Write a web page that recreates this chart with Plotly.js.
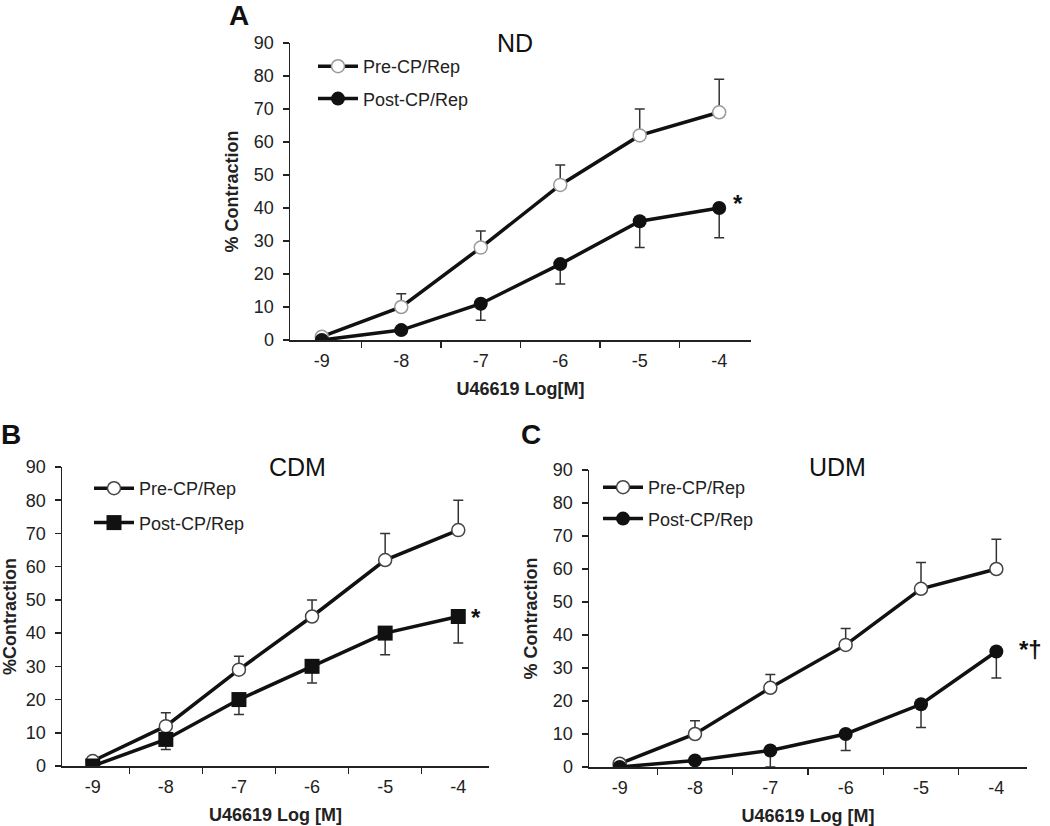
<!DOCTYPE html>
<html>
<head>
<meta charset="utf-8">
<script src="https://cdn.plot.ly/plotly-3.0.1.min.js"></script>
<style>
  html, body { margin: 0; padding: 0; background: #fff; }
  #chart { width: 1050px; height: 826px; }
</style>
</head>
<body>
<div id="chart"></div>
<script>
// U46619 concentration (log M) — category axis
const doses = ["-9", "-8", "-7", "-6", "-5", "-4"];

// Panel A: ND
const ndPre = [1, 10, 28, 47, 62, 69];
const ndPreErr = [0.5, 4, 5, 6, 8, 10];
const ndPost = [0, 3, 11, 23, 36, 40];
const ndPostErr = [0, 1, 5, 6, 8, 9];

// Panel B: CDM
const cdmPre = [1.5, 12, 29, 45, 62, 71];
const cdmPreErr = [0.5, 4, 4, 5, 8, 9];
const cdmPost = [0, 8, 20, 30, 40, 45];
const cdmPostErr = [0, 3, 4.5, 5, 6.5, 8];

// Panel C: UDM
const udmPre = [1, 10, 24, 37, 54, 60];
const udmPreErr = [0.5, 4, 4, 5, 8, 9];
const udmPost = [0, 2, 5, 10, 19, 35];
const udmPostErr = [0, 3, 5, 5, 7, 8];

const zeros = [0, 0, 0, 0, 0, 0];
const FONT = "Liberation Sans, Arial, sans-serif";
const LINE = { color: "#111", width: 3.5 };

function errUp(arr) {
  return { type: "data", symmetric: false, array: arr, arrayminus: zeros,
           color: "#333", thickness: 1.5, width: 5 };
}
function errDown(arr) {
  return { type: "data", symmetric: false, array: zeros, arrayminus: arr,
           color: "#333", thickness: 1.5, width: 5 };
}

function preTrace(y, err, xa, ya, leg, outline) {
  return {
    x: doses, y: y, xaxis: xa, yaxis: ya, legend: leg,
    name: "Pre-CP/Rep", legendgroup: leg + "pre",
    mode: "lines+markers", line: LINE,
    marker: { symbol: "circle", size: 13, color: "#fff", line: { color: outline, width: 1.5 } },
    error_y: errUp(err)
  };
}
function postTrace(y, err, xa, ya, leg, symbol) {
  return {
    x: doses, y: y, xaxis: xa, yaxis: ya, legend: leg,
    name: "Post-CP/Rep", legendgroup: leg + "post",
    mode: "lines+markers", line: LINE,
    marker: { symbol: symbol, size: symbol === "square" ? 15 : 14, color: "#111", line: { width: 0 } },
    error_y: errDown(err)
  };
}

const traces = [
  preTrace(ndPre, ndPreErr, "x", "y", "legend", "#999"),
  postTrace(ndPost, ndPostErr, "x", "y", "legend", "circle"),
  preTrace(cdmPre, cdmPreErr, "x2", "y2", "legend2", "#444"),
  postTrace(cdmPost, cdmPostErr, "x2", "y2", "legend2", "square"),
  preTrace(udmPre, udmPreErr, "x3", "y3", "legend3", "#444"),
  postTrace(udmPost, udmPostErr, "x3", "y3", "legend3", "circle")
];

const W = 1050, H = 826;
const px = v => v / W;
const py = v => 1 - v / H;

function xAxis(domain, anchor, title) {
  return {
    domain: domain, anchor: anchor, type: "category",
    tickson: "boundaries", ticks: "outside", ticklen: 6, tickwidth: 1.5, tickcolor: "#222",
    showline: true, linecolor: "#222", linewidth: 1.5, showgrid: false, zeroline: false,
    tickfont: { family: FONT, size: 18, color: "#222" },
    ticklabelstandoff: 4,
    title: { text: title, font: { family: FONT, size: 18, color: "#222", weight: "bold" }, standoff: 12 },
    fixedrange: true
  };
}
function yAxis(domain, anchor, title) {
  return {
    domain: domain, anchor: anchor, range: [0, 90], dtick: 10,
    ticks: "outside", ticklen: 6, tickwidth: 1.5, tickcolor: "#222",
    showline: true, linecolor: "#222", linewidth: 1.5, showgrid: false, zeroline: false,
    tickfont: { family: FONT, size: 18, color: "#222" },
    ticklabelstandoff: 5,
    title: { text: title, font: { family: FONT, size: 18, color: "#222", weight: "bold" }, standoff: 10 },
    fixedrange: true
  };
}
function legendAt(x, y, gap) {
  return {
    x: px(x), y: py(y), xanchor: "left", yanchor: "top",
    xref: "paper", yref: "paper",
    bgcolor: "rgba(0,0,0,0)", borderwidth: 0,
    traceorder: "grouped", tracegroupgap: gap, itemwidth: 40,
    font: { family: FONT, size: 18, color: "#222" }
  };
}
function label(text, x, y, size, bold) {
  return {
    text: text, xref: "paper", yref: "paper", x: px(x), y: py(y),
    xanchor: "center", yanchor: "middle", showarrow: false,
    font: { family: FONT, size: size, color: "#111", weight: bold ? "bold" : "normal" }
  };
}

const layout = {
  width: W, height: H,
  margin: { l: 0, r: 0, t: 0, b: 0 },
  paper_bgcolor: "#fff", plot_bgcolor: "#fff",
  font: { family: FONT, color: "#222" },
  showlegend: true,
  xaxis: xAxis([px(290), px(751)], "y", "U46619 Log[M]"),
  yaxis: yAxis([py(340), py(43)], "x", "% Contraction"),
  xaxis2: xAxis([px(62), px(489)], "y2", "U46619 Log [M]"),
  yaxis2: yAxis([py(766), py(467)], "x2", "%Contraction"),
  xaxis3: xAxis([px(589), px(1027)], "y3", "U46619 Log [M]"),
  yaxis3: yAxis([py(767), py(470)], "x3", "% Contraction"),
  legend: legendAt(313, 48, 6),
  legend2: legendAt(89, 470, 8),
  legend3: legendAt(598, 469, 5),
  annotations: [
    label("A", 239, 16, 28, true),
    label("B", 11, 434, 28, true),
    label("C", 531, 434, 28, true),
    label("ND", 515, 43, 25, false),
    label("CDM", 297, 467, 25, false),
    label("UDM", 837, 467, 25, false),
    label("*", 738, 203, 24, true),
    label("*", 476, 617, 24, true),
    label("*†", 1030, 649, 24, true)
  ]
};

Plotly.newPlot("chart", traces, layout, { displayModeBar: false, staticPlot: true });
</script>
</body>
</html>
